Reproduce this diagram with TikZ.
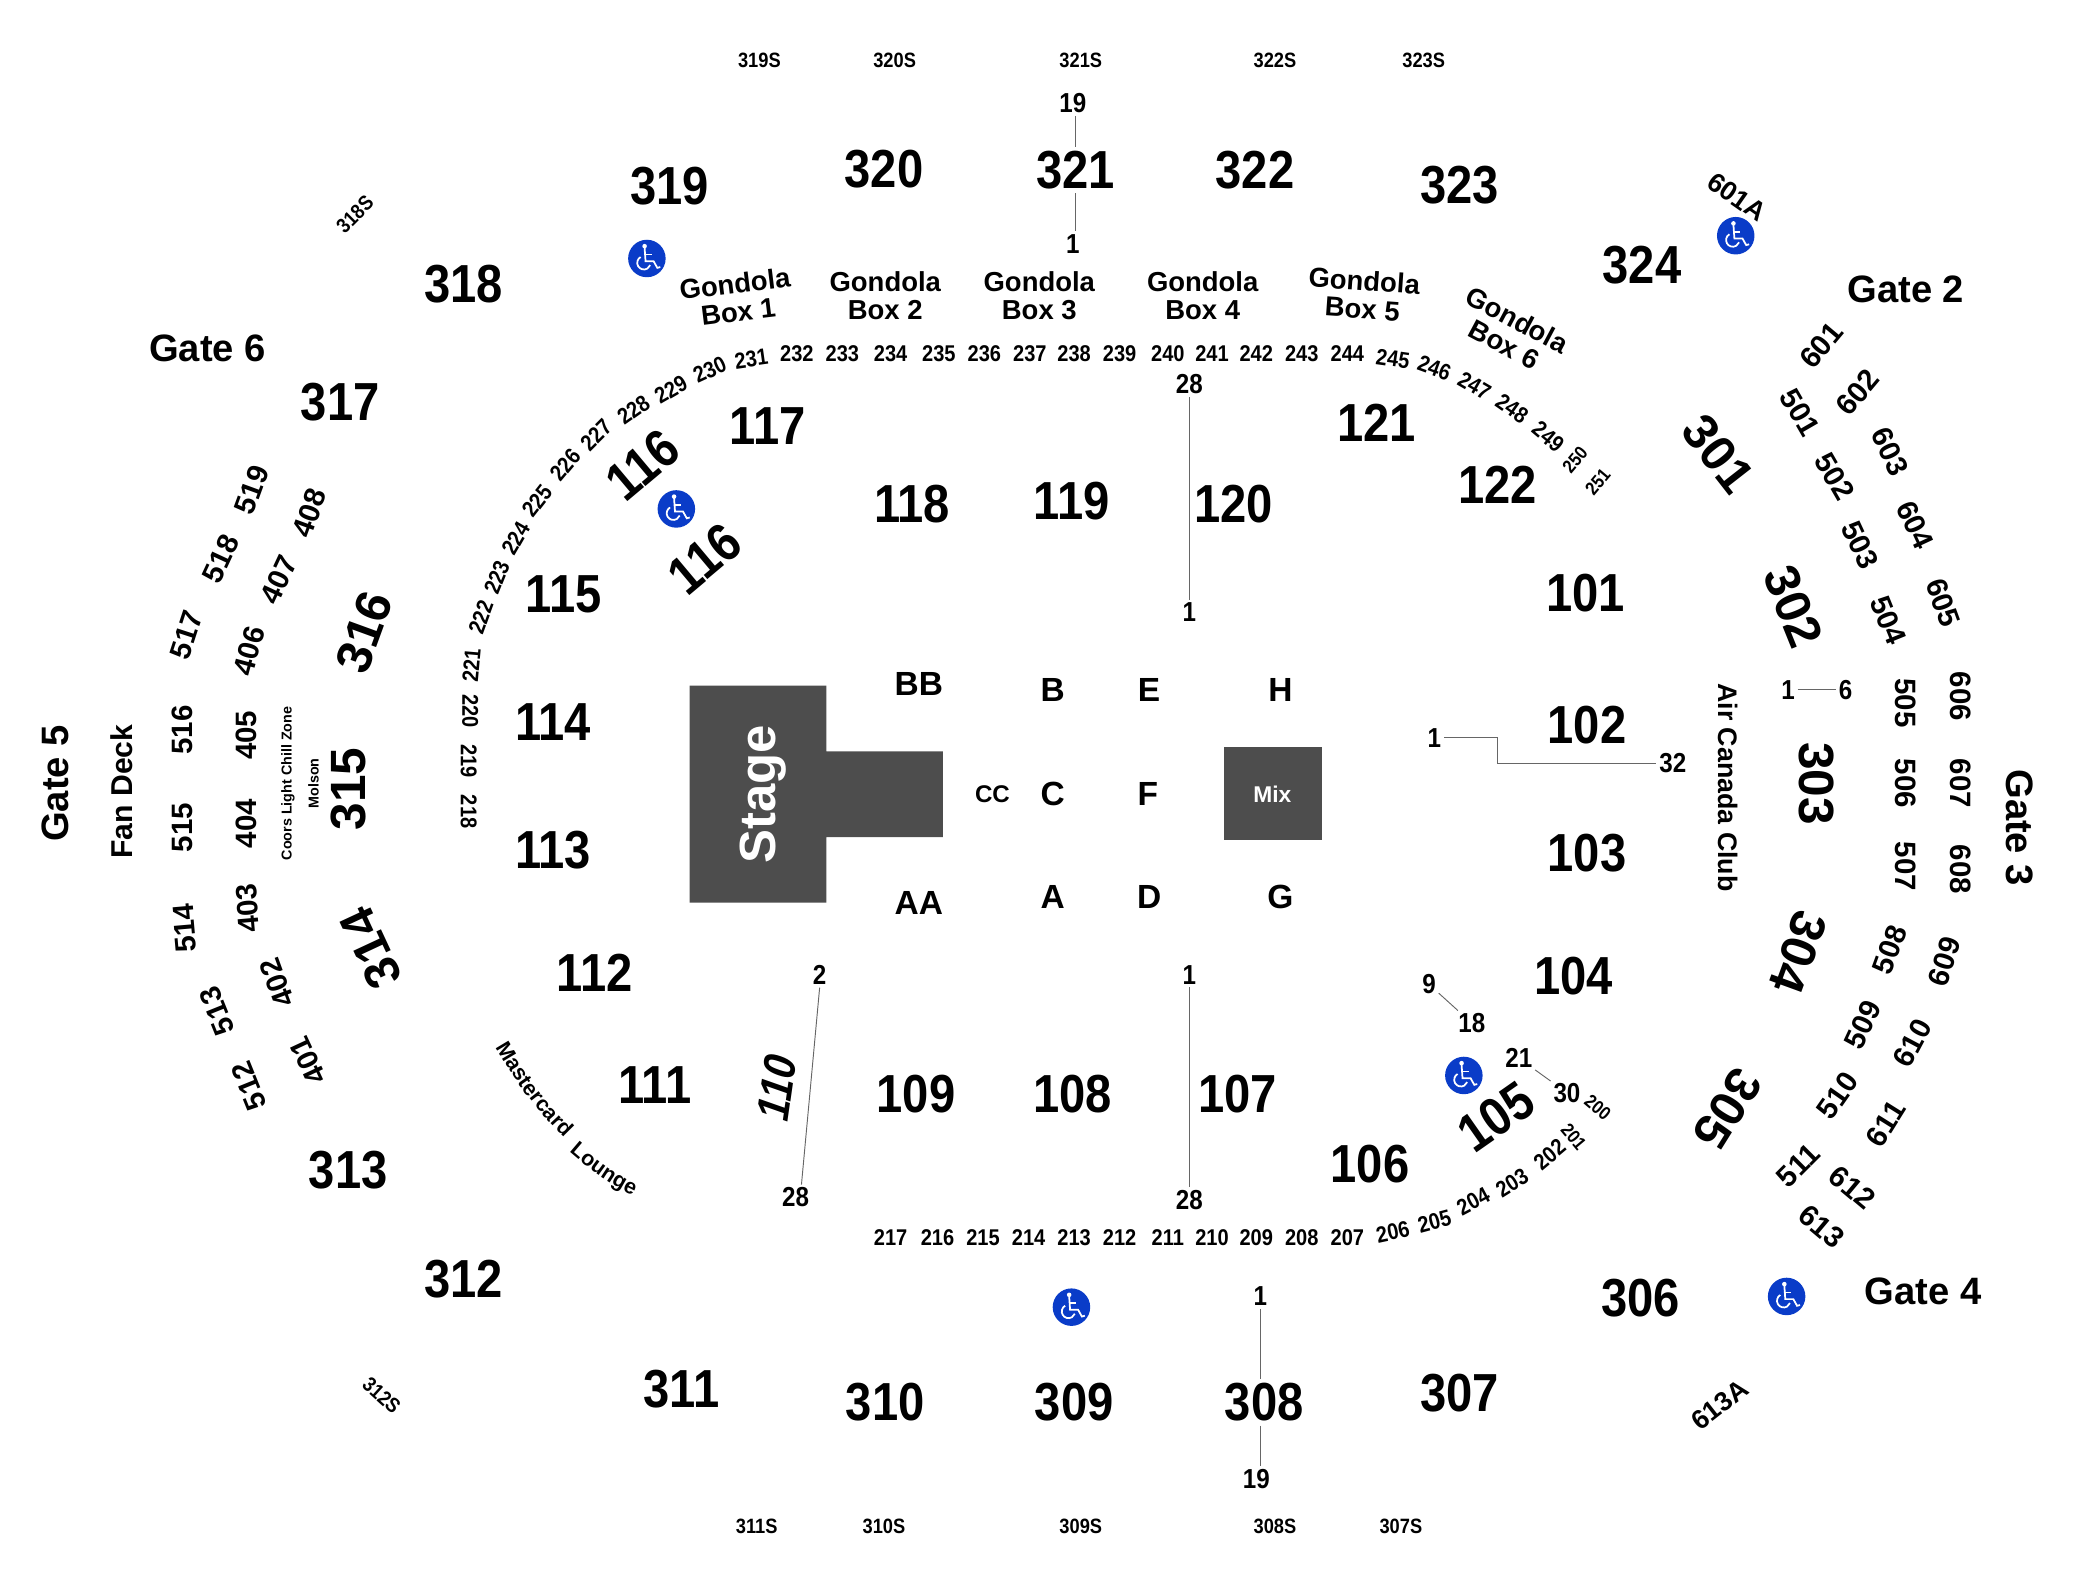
\documentclass[tikz,border=0pt]{standalone}
\usepackage{fontspec}
\setmainfont{Liberation Sans}
\newfontfamily\condfont{Liberation Sans}[FakeStretch=0.88]
\newfontfamily\slantfont{Liberation Sans}[FakeStretch=0.88, FakeSlant=0.2]
\usetikzlibrary{decorations.text}
\newcommand{\fsz}[1]{\fontsize{#1}{#1}\selectfont\bfseries}
\definecolor{stagegray}{HTML}{4D4D4D}
\definecolor{wheelblue}{HTML}{0A3CC8}
\tikzset{
  sec/.style={inner sep=3pt, font=\condfont\fsz{40}},
  secwide/.style={inner sep=4pt, font=\fsz{37}},
  tier/.style={inner sep=1pt, font=\fsz{22}},
  rownum/.style={inner sep=1pt, font=\condfont\fsz{17}},
  rowtiny/.style={inner sep=1pt, font=\condfont\fsz{14}},
  rowend/.style={inner sep=2pt, font=\condfont\fsz{20.5}},
  stand/.style={inner sep=1pt, font=\condfont\fsz{15.5}},
  gate/.style={inner sep=1pt, font=\fsz{28.5}},
  gondola/.style={inner sep=1pt, align=center, font=\fontsize{20.5}{21}\selectfont\bfseries},
  letter/.style={inner sep=1pt, font=\fsz{25}},
  rowline/.style={line width=0.7pt, black!60},
  wheelicon/.pic={
    \fill[wheelblue] (0,0) circle (14);
    \fill[white] (-1.7,-9.2) circle (1.7);
    \draw[white, line width=1.3pt] (-1.7,-8) -- (-1,2) -- (5,2) -- (7.8,7) -- (10,6.4);
    \draw[white, line width=1.3pt] (-1.3,-3) -- (3.5,-3);
    \draw[white, line width=1.3pt] (-4.7,-1.1) arc[start angle=240, end angle=20, radius=5];
  },
}
\begin{document}
\begin{tikzpicture}[x=1pt, y=-1pt]
\useasboundingbox (0,0) rectangle (1568,1186);
\fill[stagegray] (515,512) -- (617,512) -- (617,561) -- (704,561) -- (704,625) -- (617,625) -- (617,674) -- (515,674) -- cycle;
\fill[stagegray] (914,558) rectangle (987,627);
\node[rotate=90, text=white, inner sep=1pt, font=\fsz{38}] (stage) at (570,593) {Stage};
\node[text=white, inner sep=1pt, font=\fsz{17}] (mix) at (950,593) {Mix};

\node[stand] (t319) at (567,45) {319S};
\node[stand] (t320) at (668,45) {320S};
\node[stand] (t321) at (807,45) {321S};
\node[stand] (t322) at (952,45) {322S};
\node[stand] (t323) at (1063,45) {323S};
\node[stand, rotate=45] (t318) at (265,160) {318S};
\node[stand, rotate=-42] (t312) at (285,1042) {312S};
\node[stand] (t311) at (565,1140) {311S};
\node[stand] (t310) at (660,1140) {310S};
\node[stand] (t309) at (807,1140) {309S};
\node[stand] (t308) at (952,1140) {308S};
\node[stand] (t307) at (1046,1140) {307S};
\node[inner sep=1pt, rotate=-35, font=\fsz{20}] (a601) at (1297,147) {601A};
\node[inner sep=1pt, rotate=38, font=\fsz{20}] (a613) at (1284,1049) {613A};

\node[sec] (s319) at (500,139) {319};
\node[sec] (s320) at (660,126) {320};
\node[sec] (s321) at (803,127) {321};
\node[sec] (s322) at (937,127) {322};
\node[sec] (s323) at (1090,138) {323};
\node[sec] (s324) at (1226,198) {324};
\node[sec] (s318) at (346,212) {318};
\node[sec] (s317) at (254,300) {317};
\node[secwide, rotate=70] (s316) at (272,472) {316};
\node[secwide, rotate=90] (s315) at (260,589) {315};
\node[secwide, rotate=115] (s314) at (277,708) {314};
\node[sec] (s313) at (260,874) {313};
\node[sec] (s312) at (346,955) {312};
\node[sec] (s311) at (509,1037) {311};
\node[sec] (s310) at (661,1047) {310};
\node[sec] (s309) at (802,1047) {309};
\node[sec] (s308) at (944,1047) {308};
\node[sec] (s307) at (1090,1040) {307};
\node[sec] (s306) at (1225,969) {306};
\node[secwide, rotate=-122] (s305) at (1290,828) {305};
\node[secwide, rotate=-110] (s304) at (1343,711) {304};
\node[secwide, rotate=-90] (s303) at (1356,585) {303};
\node[secwide, rotate=-68] (s302) at (1339,453) {302};
\node[secwide, rotate=-52] (s301) at (1283,339) {301};

\node[sec] (s117) at (573,318) {117};
\node[sec, rotate=40] (s116a) at (480,347) {116};
\node[sec, rotate=40] (s116b) at (526,417) {116};
\node[sec] (s115) at (421,444) {115};
\node[sec] (s114) at (413,539) {114};
\node[sec] (s113) at (413,635) {113};
\node[sec] (s112) at (444,726) {112};
\node[sec] (s111) at (489,810) {111};
\node[inner sep=1pt, rotate=82, font=\slantfont\fsz{34}] (s110) at (580,814) {110};
\node[sec] (s109) at (684,817) {109};
\node[sec] (s108) at (801,817) {108};
\node[sec] (s107) at (924,817) {107};
\node[sec] (s106) at (1023,869) {106};
\node[sec, rotate=35] (s105) at (1117,834) {105};
\node[sec] (s104) at (1175,729) {104};
\node[sec] (s103) at (1185,637) {103};
\node[sec] (s102) at (1185,541) {102};
\node[sec] (s101) at (1184,443) {101};
\node[sec] (s122) at (1118,362) {122};
\node[sec] (s121) at (1028,316) {121};
\node[sec] (s120) at (921,376) {120};
\node[sec] (s119) at (800,374) {119};
\node[sec] (s118) at (681,376) {118};

\node[gate] (gate6) at (155,260) {Gate 6};
\node[gate] (gate2) at (1423,216) {Gate 2};
\node[gate] (gate4) at (1436,964) {Gate 4};
\node[gate, rotate=90] (gate5) at (41,585) {Gate 5};
\node[gate, rotate=-90] (gate3) at (1508,618) {Gate 3};
\node[inner sep=1pt, rotate=90, font=\fsz{22.5}] (fan) at (91,591) {Fan Deck};
\node[inner sep=1pt, rotate=-90, font=\fsz{20}] (club) at (1290,588) {Air Canada Club};
\node[inner sep=1pt, rotate=90, font=\fsz{10.7}] (coors) at (215,585) {Coors Light Chill Zone};
\node[inner sep=1pt, rotate=90, font=\fsz{10.7}] (molson) at (234,585) {Molson};
\path[decorate, decoration={text along path, text={|\fsz{16}|Mastercard}}] (370,782) .. controls (385,808) and (403,833) .. (427,855);
\path[decorate, decoration={text along path, text={|\fsz{16}|Lounge}}] (425,860) .. controls (440,873) and (455,885) .. (478,895);

\node[gondola, rotate=7] (box1) at (550,222) {Gondola\\Box 1};
\node[gondola] (box2) at (661,221) {Gondola\\Box 2};
\node[gondola] (box3) at (776,221) {Gondola\\Box 3};
\node[gondola] (box4) at (898,221) {Gondola\\Box 4};
\node[gondola, rotate=-4] (box5) at (1018,220) {Gondola\\Box 5};
\node[gondola, rotate=-28] (box6) at (1128,248) {Gondola\\Box 6};

\node[letter] (lBB) at (686,511) {BB};
\node[letter] (lAA) at (686,674) {AA};
\node[inner sep=1pt, font=\fsz{18}] (lCC) at (741,593) {CC};
\node[letter] (lB) at (786,515) {B};
\node[letter] (lC) at (786,593) {C};
\node[letter] (lA) at (786,670) {A};
\node[letter] (lE) at (858,515) {E};
\node[letter] (lF) at (857,593) {F};
\node[letter] (lD) at (858,670) {D};
\node[letter] (lH) at (956,515) {H};
\node[letter] (lG) at (956,670) {G};

\node[rownum, rotate=-90] (r218) at (350,606) {218};
\node[rownum, rotate=-90] (r219) at (350,568) {219};
\node[rownum, rotate=-90] (r220) at (351,531) {220};
\node[rownum, rotate=85] (r221) at (352,497) {221};
\node[rownum, rotate=70] (r222) at (359,461) {222};
\node[rownum, rotate=68] (r223) at (371,431) {223};
\node[rownum, rotate=60] (r224) at (385,402) {224};
\node[rownum, rotate=52] (r225) at (401,374) {225};
\node[rownum, rotate=50] (r226) at (422,347) {226};
\node[rownum, rotate=45] (r227) at (445,325) {227};
\node[rownum, rotate=35] (r228) at (473,306) {228};
\node[rownum, rotate=30] (r229) at (501,291) {229};
\node[rownum, rotate=25] (r230) at (530,276) {230};
\node[rownum, rotate=8] (r231) at (561,268) {231};
\node[rownum] (r232) at (595,264) {232};
\node[rownum] (r233) at (629,264) {233};
\node[rownum] (r234) at (665,264) {234};
\node[rownum] (r235) at (701,264) {235};
\node[rownum] (r236) at (735,264) {236};
\node[rownum] (r237) at (769,264) {237};
\node[rownum] (r238) at (802,264) {238};
\node[rownum] (r239) at (836,264) {239};
\node[rownum] (r240) at (872,264) {240};
\node[rownum] (r241) at (905,264) {241};
\node[rownum] (r242) at (938,264) {242};
\node[rownum] (r243) at (972,264) {243};
\node[rownum] (r244) at (1006,264) {244};
\node[rownum, rotate=-8] (r245) at (1040,268) {245};
\node[rownum, rotate=-20] (r246) at (1071,275) {246};
\node[rownum, rotate=-30] (r247) at (1101,288) {247};
\node[rownum, rotate=-35] (r248) at (1129,305) {248};
\node[rownum, rotate=-40] (r249) at (1156,326) {249};
\node[rowtiny, rotate=50] (r250) at (1176,343) {250};
\node[rowtiny, rotate=50] (r251) at (1193,360) {251};
\node[rownum] (r217) at (665,924) {217};
\node[rownum] (r216) at (700,924) {216};
\node[rownum] (r215) at (734,924) {215};
\node[rownum] (r214) at (768,924) {214};
\node[rownum] (r213) at (802,924) {213};
\node[rownum] (r212) at (836,924) {212};
\node[rownum] (r211) at (872,924) {211};
\node[rownum] (r210) at (905,924) {210};
\node[rownum] (r209) at (938,924) {209};
\node[rownum] (r208) at (972,924) {208};
\node[rownum] (r207) at (1006,924) {207};
\node[rownum, rotate=12] (r206) at (1040,920) {206};
\node[rownum, rotate=15] (r205) at (1071,912) {205};
\node[rownum, rotate=28] (r204) at (1100,897) {204};
\node[rownum, rotate=32] (r203) at (1129,883) {203};
\node[rownum, rotate=40] (r202) at (1157,862) {202};
\node[rowtiny, rotate=-50] (r201) at (1175,849) {201};
\node[rowtiny, rotate=-40] (r200) at (1193,827) {200};

\node[tier, rotate=70] (u519) at (188,366) {519};
\node[tier, rotate=65] (u518) at (165,417) {518};
\node[tier, rotate=72] (u517) at (139,474) {517};
\node[tier, rotate=90] (u516) at (136,545) {516};
\node[tier, rotate=90] (u515) at (136,618) {515};
\node[tier, rotate=95] (u514) at (138,693) {514};
\node[tier, rotate=112] (u513) at (162,755) {513};
\node[tier, rotate=112] (u512) at (186,811) {512};
\node[tier, rotate=70] (u408) at (231,383) {408};
\node[tier, rotate=65] (u407) at (208,433) {407};
\node[tier, rotate=75] (u406) at (186,486) {406};
\node[tier, rotate=90] (u405) at (184,549) {405};
\node[tier, rotate=90] (u404) at (184,615) {404};
\node[tier, rotate=95] (u403) at (185,678) {403};
\node[tier, rotate=110] (u402) at (207,734) {402};
\node[tier, rotate=115] (u401) at (230,792) {401};
\node[tier, rotate=-60] (u501) at (1344,308) {501};
\node[tier, rotate=-60] (u502) at (1370,356) {502};
\node[tier, rotate=-65] (u503) at (1389,407) {503};
\node[tier, rotate=-68] (u504) at (1410,463) {504};
\node[tier, rotate=-90] (u505) at (1423,525) {505};
\node[tier, rotate=-90] (u506) at (1423,585) {506};
\node[tier, rotate=-90] (u507) at (1423,647) {507};
\node[tier, rotate=70] (u508) at (1411,709) {508};
\node[tier, rotate=65] (u509) at (1391,765) {509};
\node[tier, rotate=55] (u510) at (1372,818) {510};
\node[tier, rotate=45] (u511) at (1343,870) {511};
\node[tier, rotate=50] (u601) at (1360,258) {601};
\node[tier, rotate=50] (u602) at (1387,293) {602};
\node[tier, rotate=-65] (u603) at (1411,337) {603};
\node[tier, rotate=-65] (u604) at (1430,392) {604};
\node[tier, rotate=-70] (u605) at (1451,450) {605};
\node[tier, rotate=-90] (u606) at (1464,520) {606};
\node[tier, rotate=-90] (u607) at (1464,585) {607};
\node[tier, rotate=-90] (u608) at (1464,649) {608};
\node[tier, rotate=72] (u609) at (1452,718) {609};
\node[tier, rotate=62] (u610) at (1428,779) {610};
\node[tier, rotate=58] (u611) at (1408,839) {611};
\node[tier, rotate=-40] (u612) at (1383,887) {612};
\node[tier, rotate=-40] (u613) at (1360,916) {613};

\node[rowend] (n19top) at (801,77) {19};
\node[rowend] (n1top) at (801,182) {1};
\node[rowend] (n28r) at (888,287) {28};
\node[rowend] (n1r) at (888,457) {1};
\node[rowend] (n1el) at (1071,551) {1};
\node[rowend] (n32el) at (1249,570) {32};
\node[rowend] (n1cl) at (1335,515) {1};
\node[rowend] (n6cl) at (1378,515) {6};
\node[rowend] (n2l) at (612,728) {2};
\node[rowend] (n28l) at (594,894) {28};
\node[rowend] (n1f) at (888,728) {1};
\node[rowend] (n28f) at (888,896) {28};
\node[rowend] (n9) at (1067,735) {9};
\node[rowend] (n18) at (1099,764) {18};
\node[rowend] (n21) at (1134,790) {21};
\node[rowend] (n30) at (1170,816) {30};
\node[rowend] (n1bot) at (941,968) {1};
\node[rowend] (n19bot) at (938,1104) {19};
\coordinate (kneeA) at (1118,551);

\draw[rowline] (s321.north |- n19top.south) -- (s321.north);
\draw[rowline] (s321.south) -- (s321.south |- n1top.north);
\draw[rowline] (n28r) -- (n1r);
\draw[rowline] (n1f) -- (n28f);
\draw[rowline] (n2l.south) -- (n28l.65);
\draw[rowline] (n1el) -- (kneeA) |- (n32el);
\draw[rowline] (n1cl) -- (n6cl);
\draw[rowline] (n9) -- (n18);
\draw[rowline] (n21) -- (n30);
\draw[rowline] (n1bot.south) -- (n1bot.south |- s308.north);
\draw[rowline] (n1bot.south |- s308.south) -- (n1bot.south |- n19bot.north);

\pic at (483,193) {wheelicon};
\pic at (505,380) {wheelicon};
\pic at (1296,176) {wheelicon};
\pic at (1093,803) {wheelicon};
\pic at (800,976) {wheelicon};
\pic at (1334,968) {wheelicon};
\end{tikzpicture}
\end{document}
